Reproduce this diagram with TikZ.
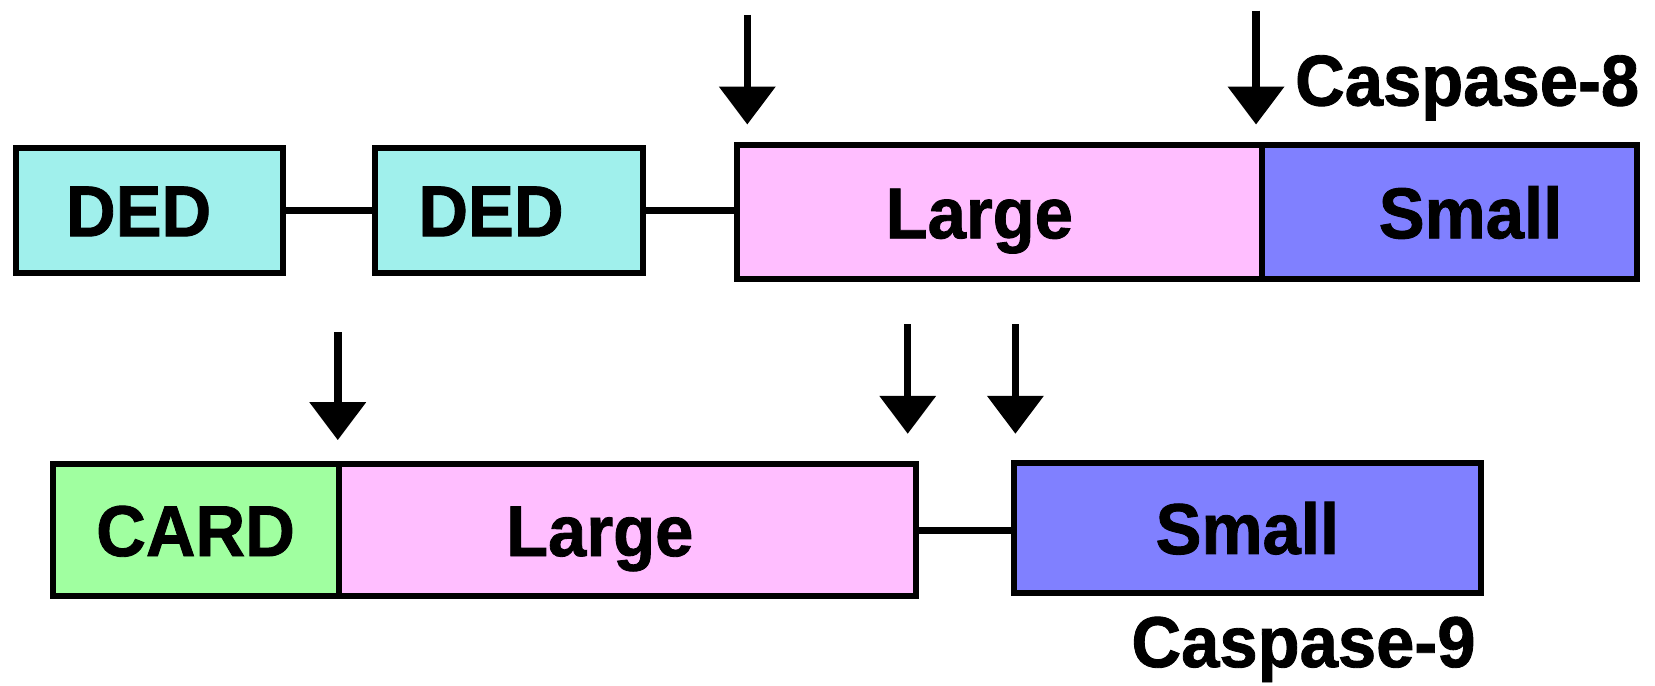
\documentclass[tikz,border=0pt]{standalone}
\usepackage{fontspec}
\setmainfont{Liberation Sans}[BoldFeatures={FakeBold=1.2}]
\usetikzlibrary{arrows.meta}
\definecolor{dedcol}{RGB}{160,240,236}
\definecolor{largecol}{RGB}{255,190,255}
\definecolor{smallcol}{RGB}{128,128,255}
\definecolor{cardcol}{RGB}{160,255,160}
\newcommand{\lbl}[1]{\scalebox{0.955}[1]{\fontsize{20.5}{24}\selectfont\bfseries #1}}
% shift text by half of #1
\newcommand{\shiftlbl}[2]{\hspace*{#1}\lbl{#2}}
\tikzset{
  protbox/.style={draw=black, line width=0.06cm, anchor=north west, inner sep=0pt,
    text height=14.7pt, text depth=0pt},
  linkline/.style={draw=black, line width=0.07cm},
  cleave/.style={draw=black, line width=0.075cm, -{Triangle[width=0.55cm,length=0.38cm]}},
  captxt/.style={inner sep=0pt, anchor=base}
}
\begin{document}
\begin{tikzpicture}[x=0.010555cm,y=-0.010555cm]
\useasboundingbox (0,0) rectangle (1568,649);
% Caspase-8
\node[protbox, fill=dedcol, minimum width=2.67cm, minimum height=1.256cm] (ded1) at (12,137) {\shiftlbl{-0.21cm}{DED}};
\node[protbox, fill=dedcol, minimum width=2.69cm, minimum height=1.256cm] (ded2) at (352,137) {\shiftlbl{-0.36cm}{DED}};
\node[protbox, fill=largecol, minimum width=5.256cm, minimum height=1.34cm] (large8) at (695,135) {\shiftlbl{-0.40cm}{Large}};
\node[protbox, fill=smallcol, minimum width=3.747cm, minimum height=1.34cm] (small8) at (1193,135) {\shiftlbl{0.42cm}{Small}};
\draw[linkline] (ded1.east) -- (ded2.west);
\draw[linkline] (ded2.east) -- (ded2.east -| large8.west);
\node[captxt] (c8) at (1390,100) {\lbl{Caspase-8}};
\coordinate (a1s) at (708,14);
\coordinate (a1e) at (708,118);
\coordinate (a2s) at (1190,10);
\coordinate (a2e) at (1190,118);
\draw[cleave] (a1s) -- (a1e);
\draw[cleave] (a2s) -- (a2e);
% Caspase-9
\node[protbox, fill=cardcol, minimum width=2.86cm, minimum height=1.32cm] (card) at (47,437) {\lbl{CARD}};
\node[protbox, fill=largecol, minimum width=5.774cm, minimum height=1.32cm] (large9) at (318,437) {\shiftlbl{-0.55cm}{Large}};
\node[protbox, fill=smallcol, minimum width=4.665cm, minimum height=1.30cm] (small9) at (958,436) {\lbl{Small}};
\draw[linkline] (large9.east) -- (large9.east -| small9.west);
\node[captxt] (c9) at (1235,632) {\lbl{Caspase-9}};
\coordinate (b1s) at (320,315);
\coordinate (b1e) at (320,417);
\coordinate (b2s) at (860,307);
\coordinate (b2e) at (860,411);
\coordinate (b3s) at (962,307);
\coordinate (b3e) at (962,411);
\draw[cleave] (b1s) -- (b1e);
\draw[cleave] (b2s) -- (b2e);
\draw[cleave] (b3s) -- (b3e);
\end{tikzpicture}
\end{document}
